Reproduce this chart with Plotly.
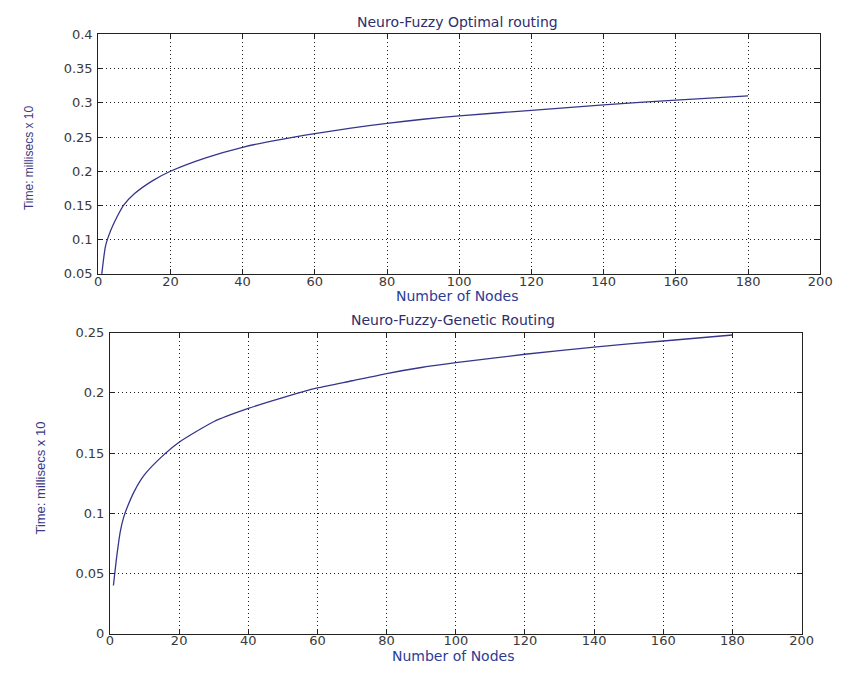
import plotly.graph_objects as go

# Data
nodes_top = [1, 2, 3, 4, 5, 7, 10, 15, 20, 30, 40, 50, 60, 70, 80, 90, 100, 120, 140, 160, 180]
time_top = [0.05, 0.09, 0.107, 0.12, 0.131, 0.15, 0.167, 0.186, 0.2, 0.22, 0.235, 0.246,
            0.255, 0.263, 0.27, 0.276, 0.281, 0.289, 0.297, 0.304, 0.31]

nodes_bot = [1, 2, 3, 4, 5, 7, 10, 15, 20, 30, 40, 50, 60, 70, 80, 90, 100, 120, 140, 160, 180]
time_bot = [0.04, 0.065, 0.085, 0.097, 0.105, 0.118, 0.132, 0.147, 0.159, 0.176, 0.187, 0.196,
            0.204, 0.210, 0.216, 0.221, 0.225, 0.232, 0.238, 0.243, 0.248]

x_ticks = [0, 20, 40, 60, 80, 100, 120, 140, 160, 180, 200]
y_ticks_top = [0.05, 0.1, 0.15, 0.2, 0.25, 0.3, 0.35, 0.4]
y_ticklabels_top = ["0.05", "0.1", "0.15", "0.2", "0.25", "0.3", "0.35", "0.4"]
y_ticks_bot = [0, 0.05, 0.1, 0.15, 0.2, 0.25]
y_ticklabels_bot = ["0", "0.05", "0.1", "0.15", "0.2", "0.25"]

title_top = "Neuro-Fuzzy Optimal routing"
title_bot = "Neuro-Fuzzy-Genetic Routing"
x_label = "Number of Nodes"
y_label = "Time: millisecs x 10"

W, H = 845, 673
LINE = "#36368c"
TICKFONT = dict(family="DejaVu Sans, Verdana, sans-serif", size=13, color="#3a3a3a")
LABELCOL = "#2c3c96"
YLABCOL = "#3a3a86"
TITLECOL = "#2e2e6e"
YFONT = "Liberation Sans, Arial, sans-serif"

fig = go.Figure()
fig.add_trace(go.Scatter(x=nodes_top, y=time_top, mode="lines",
                         line=dict(color=LINE, width=1.3, shape="spline", smoothing=0.6),
                         xaxis="x", yaxis="y", showlegend=False, hoverinfo="skip"))
fig.add_trace(go.Scatter(x=nodes_bot, y=time_bot, mode="lines",
                         line=dict(color=LINE, width=1.3, shape="spline", smoothing=0.6),
                         xaxis="x2", yaxis="y2", showlegend=False, hoverinfo="skip"))


def px_x(a, b):
    return [a / W, b / W]


def px_y(top, bottom):
    return [1 - bottom / H, 1 - top / H]


common_ax = dict(showline=True, linecolor="#222222", linewidth=1, mirror="ticks",
                 ticks="inside", ticklen=5, tickcolor="#222222",
                 showgrid=True, gridcolor="#1a1a1a", griddash="1px,3px", gridwidth=1,
                 zeroline=False, tickfont=TICKFONT)

fig.update_layout(
    width=W, height=H, autosize=False,
    margin=dict(l=0, r=0, t=0, b=0),
    paper_bgcolor="white", plot_bgcolor="white",
    xaxis=dict(domain=px_x(96, 832), range=[0, 200], tickvals=x_ticks, anchor="y",
               ticklabelstandoff=-5, **common_ax),
    yaxis=dict(domain=px_y(28, 273), range=[0.05, 0.4], tickvals=y_ticks_top,
               ticktext=y_ticklabels_top, anchor="x", ticklabelstandoff=2, **common_ax),
    xaxis2=dict(domain=px_x(108, 813), range=[0, 200], tickvals=x_ticks, anchor="y2",
                ticklabelstandoff=-5, **common_ax),
    yaxis2=dict(domain=px_y(333, 641), range=[0, 0.25], tickvals=y_ticks_bot,
                ticktext=y_ticklabels_bot, anchor="x2", ticklabelstandoff=2, **common_ax),
    annotations=[
        dict(text=title_top, x=462 / W, y=1 - 15 / H, xref="paper", yref="paper",
             xanchor="center", yanchor="middle", showarrow=False,
             font=dict(family="DejaVu Sans, Verdana", size=14, color=TITLECOL)),
        dict(text=title_bot, x=458 / W, y=1 - 320 / H, xref="paper", yref="paper",
             xanchor="center", yanchor="middle", showarrow=False,
             font=dict(family="DejaVu Sans, Verdana", size=14, color=TITLECOL)),
        dict(text=x_label, x=462 / W, y=1 - 296 / H, xref="paper", yref="paper",
             xanchor="center", yanchor="middle", showarrow=False,
             font=dict(family="DejaVu Sans, Verdana", size=14, color=LABELCOL)),
        dict(text=x_label, x=458 / W, y=1 - 664 / H, xref="paper", yref="paper",
             xanchor="center", yanchor="middle", showarrow=False,
             font=dict(family="DejaVu Sans, Verdana", size=14, color=LABELCOL)),
        dict(text=y_label, x=25 / W, y=1 - 154 / H, xref="paper", yref="paper", textangle=-90,
             xanchor="center", yanchor="middle", showarrow=False,
             font=dict(family=YFONT, size=12, color=YLABCOL)),
        dict(text=y_label, x=37 / W, y=1 - 482 / H, xref="paper", yref="paper", textangle=-90,
             xanchor="center", yanchor="middle", showarrow=False,
             font=dict(family=YFONT, size=13, color=YLABCOL)),
    ],
)

fig.write_html("out.html",
               config={"displayModeBar": False, "staticPlot": True},
               post_script="document.body.style.margin='0';document.body.style.padding='0';"
                           "document.documentElement.style.overflow='hidden';")
